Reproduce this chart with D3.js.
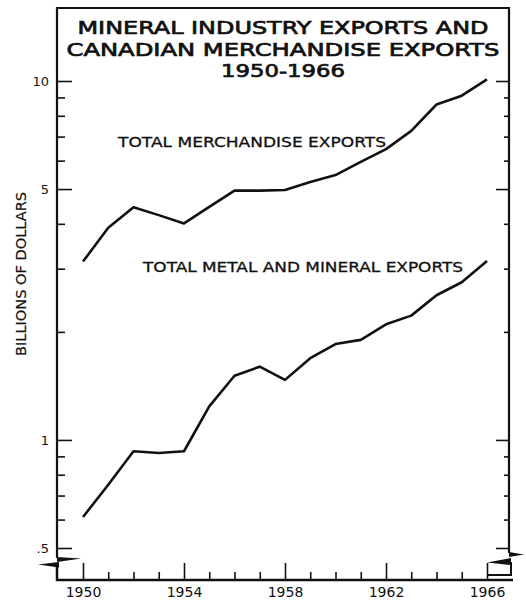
<!DOCTYPE html>
<html>
<head>
<meta charset="utf-8">
<script src="https://cdn.jsdelivr.net/npm/d3@7"></script>
<style>
  body { margin: 0; background: #fff; }
  text { font-family: "DejaVu Sans", sans-serif; fill: #111; }
</style>
</head>
<body>
<svg id="chart" width="526" height="600"></svg>
<script>
/* data (billions of dollars) */
var years = [1950, 1951, 1952, 1953, 1954, 1955, 1956, 1957, 1958,
             1959, 1960, 1961, 1962, 1963, 1964, 1965, 1966];
var merchandise = [3.14, 3.90, 4.45, 4.23, 4.01, 4.46, 4.95, 4.95, 4.97,
                   5.23, 5.47, 5.95, 6.46, 7.26, 8.60, 9.10, 10.1];
var metals = [0.61, 0.75, 0.93, 0.92, 0.93, 1.24, 1.51, 1.60, 1.47,
              1.69, 1.85, 1.90, 2.10, 2.22, 2.53, 2.75, 3.15];

var majorY = [10, 5, 1, 0.5];
var majorYLabels = ["10", "5", "1", ".5"];
var minorY = [9, 8, 7, 6, 4, 3, 2, 0.9, 0.8, 0.7, 0.6];
var majorX = [1950, 1954, 1958, 1962, 1966];

var titleLines = ["MINERAL INDUSTRY EXPORTS AND", "CANADIAN MERCHANDISE EXPORTS", "1950-1966"];

var svg = d3.select('#chart');

var x = d3.scaleLinear().domain([1950, 1966]).range([83, 487]);
var y = d3.scaleLog().domain([0.5, 10]).range([548, 81]);

// plot frame edges (window.top is reserved, so no "top" here)
var frameL = 57, frameR = 509, frameT = 8, frameB = 580;

/* frame */
var ink = '#111';
svg.append('path')
  .attr('d', 'M' + frameL + ',558 V' + frameT + ' H' + frameR + ' V553')
  .attr('fill', 'none').attr('stroke', ink).attr('stroke-width', 2.2);
svg.append('path')
  .attr('d', 'M' + frameL + ',563 V' + frameB + ' H513')
  .attr('fill', 'none').attr('stroke', ink).attr('stroke-width', 2.5);
svg.append('path')
  .attr('d', 'M511,562 V575 H487')
  .attr('fill', 'none').attr('stroke', ink).attr('stroke-width', 2);

/* axis break wedges */
svg.append('path').attr('d', 'M57,557 L81,558.5 L57,562 Z').attr('fill', ink);
svg.append('path').attr('d', 'M59,562 L38,564.5 L59,567.5 Z').attr('fill', ink);
svg.append('path').attr('d', 'M509,552 L524,554.5 L509,557 Z').attr('fill', ink);
svg.append('path').attr('d', 'M511,558 L487,562.5 L511,565 Z').attr('fill', ink);

/* y ticks, pointing into the plot from both sides */
var tickMajorL = d3.axisRight(y).tickValues(majorY).tickSize(15).tickFormat('');
var tickMinorL = d3.axisRight(y).tickValues(minorY).tickSize(8).tickFormat('');
var tickMajorR = d3.axisLeft(y).tickValues(majorY).tickSize(13).tickFormat('');
var tickMinorR = d3.axisLeft(y).tickValues(minorY).tickSize(5).tickFormat('');
[[tickMajorL, frameL], [tickMinorL, frameL], [tickMajorR, frameR], [tickMinorR, frameR]].forEach(function(a) {
  var g = svg.append('g').attr('transform', 'translate(' + a[1] + ',0)').call(a[0]);
  g.select('.domain').remove();
  g.selectAll('line').attr('stroke', ink).attr('stroke-width', 1.6);
});

/* y labels */
var yLab = svg.append('g').attr('transform', 'translate(' + frameL + ',0)')
  .call(d3.axisLeft(y).tickValues(majorY).tickSize(0).tickPadding(8)
    .tickFormat(function(d, i) { return majorYLabels[i]; }));
yLab.select('.domain').remove();
yLab.selectAll('text').style('font-family', '"DejaVu Sans", sans-serif').style('font-size', '13px').attr('fill', ink);

/* x ticks (pointing up) */
var xMinor = years.filter(function(d) { return majorX.indexOf(d) < 0; });
var xg1 = svg.append('g').attr('transform', 'translate(0,' + frameB + ')')
  .call(d3.axisTop(x).tickValues(majorX).tickSize(17).tickFormat(''));
var xg2 = svg.append('g').attr('transform', 'translate(0,' + frameB + ')')
  .call(d3.axisTop(x).tickValues(xMinor).tickSize(8).tickFormat(''));
[xg1, xg2].forEach(function(g) {
  g.select('.domain').remove();
  g.selectAll('line').attr('stroke', ink).attr('stroke-width', 1.6);
});
var xl = svg.append('g').attr('transform', 'translate(0,' + frameB + ')')
  .call(d3.axisBottom(x).tickValues(majorX).tickSize(0).tickPadding(7).tickFormat(d3.format('d')));
xl.select('.domain').remove();
xl.selectAll('text').style('font-family', '"DejaVu Sans", sans-serif').style('font-size', '14px').attr('fill', ink);

/* lines */
var line = d3.line().x(function(d) { return x(d[0]); }).y(function(d) { return y(d[1]); });
[merchandise, metals].forEach(function(series) {
  svg.append('path')
    .datum(years.map(function(yr, i) { return [yr, series[i]]; }))
    .attr('d', line)
    .attr('fill', 'none')
    .attr('stroke', ink)
    .attr('stroke-width', 2.6)
    .attr('stroke-linejoin', 'round');
});

/* title */
var titleSpec = [[34, 411], [56, 433], [77, 124]];
titleLines.forEach(function(t, i) {
  svg.append('text')
    .attr('x', (frameL + frameR) / 2)
    .attr('y', titleSpec[i][0])
    .attr('text-anchor', 'middle')
    .attr('textLength', titleSpec[i][1])
    .attr('lengthAdjust', 'spacingAndGlyphs')
    .style('font-size', '18px')
    .style('stroke', ink).style('stroke-width', '0.7px')
    .text(t);
});

/* series labels */
svg.append('text').attr('x', 118).attr('y', 147)
  .attr('textLength', 268).attr('lengthAdjust', 'spacingAndGlyphs')
  .style('font-size', '14px').style('stroke', ink).style('stroke-width', '0.3px')
  .text('TOTAL MERCHANDISE EXPORTS');
svg.append('text').attr('x', 143).attr('y', 272)
  .attr('textLength', 320).attr('lengthAdjust', 'spacingAndGlyphs')
  .style('font-size', '14px').style('stroke', ink).style('stroke-width', '0.3px')
  .text('TOTAL METAL AND MINERAL EXPORTS');

/* y axis title */
svg.append('text')
  .attr('transform', 'translate(26,274) rotate(-90)')
  .attr('text-anchor', 'middle')
  .attr('textLength', 164).attr('lengthAdjust', 'spacingAndGlyphs')
  .style('font-size', '14px')
  .style('stroke', ink).style('stroke-width', '0.2px')
  .text('BILLIONS OF DOLLARS');
</script>
</body>
</html>
